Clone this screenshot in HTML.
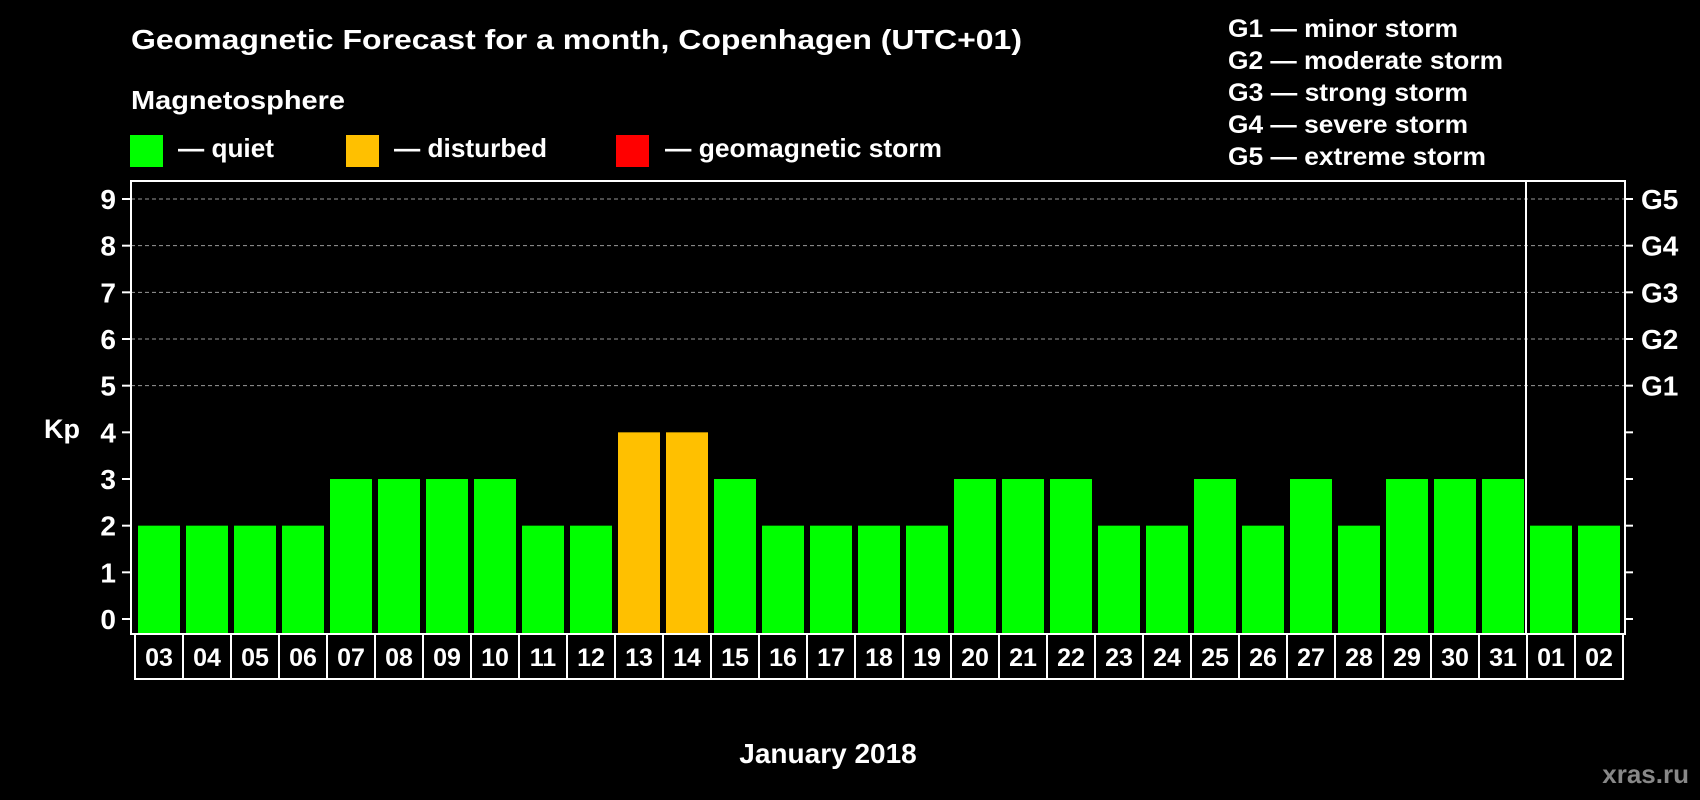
<!DOCTYPE html>
<html><head><meta charset="utf-8"><style>
html,body{margin:0;padding:0;background:#000;}
svg{display:block;font-family:"Liberation Sans",Arial,sans-serif;font-weight:bold;}
</style></head><body>
<svg id="chart" width="1700" height="800" viewBox="0 0 1700 800">
<rect x="0" y="0" width="1700" height="800" fill="#000"/>
<text x="131" y="49" fill="#fff" font-size="28" textLength="891" lengthAdjust="spacingAndGlyphs">Geomagnetic Forecast for a month, Copenhagen (UTC+01)</text>
<text x="131" y="109" fill="#fff" font-size="26" textLength="214" lengthAdjust="spacingAndGlyphs">Magnetosphere</text>
<g>
<rect x="130" y="135" width="33" height="32" fill="#00ff00"/>
<text x="178" y="157" fill="#fff" font-size="26" textLength="96" lengthAdjust="spacingAndGlyphs">— quiet</text>
</g>
<g>
<rect x="346" y="135" width="33" height="32" fill="#ffc000"/>
<text x="394" y="157" fill="#fff" font-size="26" textLength="153" lengthAdjust="spacingAndGlyphs">— disturbed</text>
</g>
<g>
<rect x="616" y="135" width="33" height="32" fill="#ff0000"/>
<text x="665" y="157" fill="#fff" font-size="26" textLength="277" lengthAdjust="spacingAndGlyphs">— geomagnetic storm</text>
</g>
<g>
<text x="1228" y="37" fill="#fff" font-size="25" textLength="230" lengthAdjust="spacingAndGlyphs">G1 — minor storm</text>
<text x="1228" y="69" fill="#fff" font-size="25" textLength="275" lengthAdjust="spacingAndGlyphs">G2 — moderate storm</text>
<text x="1228" y="101" fill="#fff" font-size="25" textLength="240" lengthAdjust="spacingAndGlyphs">G3 — strong storm</text>
<text x="1228" y="133" fill="#fff" font-size="25" textLength="240" lengthAdjust="spacingAndGlyphs">G4 — severe storm</text>
<text x="1228" y="165" fill="#fff" font-size="25" textLength="258" lengthAdjust="spacingAndGlyphs">G5 — extreme storm</text>
</g>
<g id="grid"></g>
<g id="bars"></g>
<g id="axes"></g>
<text x="62" y="438" fill="#fff" font-size="27" text-anchor="middle">Kp</text>
<text x="828" y="763" fill="#fff" font-size="28" text-anchor="middle">January 2018</text>
<text x="1689" y="783" fill="#888" font-size="26" text-anchor="end">xras.ru</text>
</svg>
<script>
const days = ["03","04","05","06","07","08","09","10","11","12","13","14","15","16","17","18","19","20","21","22","23","24","25","26","27","28","29","30","31","01","02"];
const kpValues = [2,2,2,2,3,3,3,3,2,2,4,4,3,2,2,2,2,3,3,3,2,2,3,2,3,2,3,3,3,2,2];
const yTicks = [0,1,2,3,4,5,6,7,8,9];
const gLabels = ["G1","G2","G3","G4","G5"];
const gLevels = [5,6,7,8,9];
const monthBreakIndex = 29;

const NS = "http://www.w3.org/2000/svg";
const plotL = 131, plotR = 1625, plotT = 181, plotB = 634;
const y0 = 619, unit = (619 - 199) / 9;
const bandStart = 135, band = 48, barW = 42;
const yScale = v => y0 - v * unit;
const xScale = i => bandStart + i * band;
function mk(tag, attrs, parent) {
  const e = document.createElementNS(NS, tag);
  for (const k in attrs) e.setAttribute(k, attrs[k]);
  parent.appendChild(e);
  return e;
}
const grid = document.getElementById("grid");
const bars = document.getElementById("bars");
const axes = document.getElementById("axes");

gLevels.forEach(v => {
  const l = mk("line", {x1: plotL, x2: plotR, y1: yScale(v), y2: yScale(v), stroke: "#999", "stroke-width": 1, "stroke-dasharray": "4,3"}, grid);
  
  
});

kpValues.forEach((v, i) => {
  const color = v >= 5 ? "#ff0000" : (v >= 4 ? "#ffc000" : "#00ff00");
  const r = mk("rect", {x: xScale(i) + 3, y: yScale(v), width: barW, height: plotB - yScale(v), fill: color}, bars);
  
  
});

const frame = mk("rect", {x: plotL, y: plotT, width: plotR - plotL, height: plotB - plotT, fill: "none", stroke: "#fff", "stroke-width": 2}, axes);


const sep = mk("line", {x1: xScale(monthBreakIndex) - 1, x2: xScale(monthBreakIndex) - 1, y1: plotT, y2: plotB, stroke: "#fff", "stroke-width": 2}, axes);



yTicks.forEach(v => {
  const y = yScale(v);
  const t1 = mk("line", {x1: 122, x2: plotL, y1: y, y2: y, stroke: "#fff", "stroke-width": 2}, axes);
  
  
  const t2 = mk("line", {x1: plotR, x2: 1633, y1: y, y2: y, stroke: "#fff", "stroke-width": 2}, axes);
  
  
  const tx = mk("text", {x: 116, y: y + 10, fill: "#fff", "font-size": 28, "text-anchor": "end"}, axes);
  tx.textContent = v;
  
  
});

gLabels.forEach((g, i) => {
  const tx = mk("text", {x: 1641, y: yScale(gLevels[i]) + 10, fill: "#fff", "font-size": 28}, axes);
  tx.textContent = g;
  
  
});

days.forEach((d, i) => {
  const bx = mk("rect", {x: xScale(i), y: plotB, width: band, height: 45, fill: "none", stroke: "#fff", "stroke-width": 2}, axes);
  
  
  const tx = mk("text", {x: xScale(i) + band / 2, y: 666, fill: "#fff", "font-size": 25, "text-anchor": "middle"}, axes);
  tx.textContent = d;
  
  
});
</script>
</body></html>
